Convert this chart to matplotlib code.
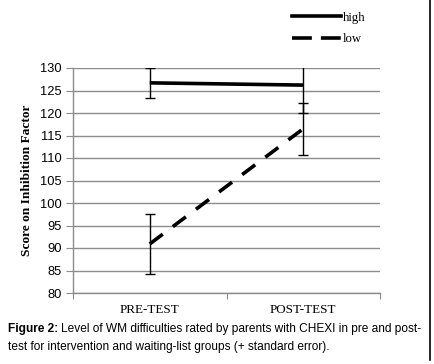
import matplotlib
matplotlib.use("Agg")
import matplotlib.pyplot as plt
from matplotlib.lines import Line2D

# data
phases = ["PRE-TEST", "POST-TEST"]
high_mean = [126.7, 126.2]
high_err = [3.4, 6.2]
low_mean = [90.9, 116.5]
low_err = [6.6, 5.8]

serif = "Liberation Serif"
sans = "Liberation Sans"
grid_c = "#8c8c8c"

fig = plt.figure(figsize=(4.34, 3.64), dpi=100)
ax = fig.add_axes([73 / 434, 1 - 293 / 364, 307 / 434, 225 / 364])

x = [0, 1]
ax.plot(x, high_mean, color="black", lw=2.6, solid_capstyle="butt", zorder=3)
ax.plot(x, low_mean, color="black", lw=2.6, dashes=(4.5, 3.5), zorder=3)
ax.errorbar(x, high_mean, yerr=high_err, fmt="none", ecolor="black",
            elinewidth=1, capsize=3.5, capthick=1, zorder=4)
ax.errorbar(x, low_mean, yerr=low_err, fmt="none", ecolor="black",
            elinewidth=1, capsize=3.5, capthick=1, zorder=4)

ax.set_xlim(-0.5, 1.5)
ax.set_ylim(80, 130)
ax.set_yticks(range(80, 131, 5))
ax.set_yticklabels([str(v) for v in range(80, 131, 5)], fontfamily=sans, fontsize=9.3)
ax.yaxis.grid(True, color=grid_c, lw=1)
ax.set_axisbelow(True)

ax.set_xticks([-0.5, 0.5, 1.5])
ax.set_xticklabels([])
ax.set_xticks(x, minor=True)
ax.set_xticklabels(phases, minor=True, fontfamily=serif, fontsize=9.4)
ax.tick_params(axis="x", which="major", length=4, color=grid_c, direction="out")
ax.tick_params(axis="x", which="minor", length=0, pad=8)
ax.tick_params(axis="y", length=5, color=grid_c, pad=3)

for s in ["top", "right"]:
    ax.spines[s].set_visible(False)
for s in ["left", "bottom"]:
    ax.spines[s].set_color(grid_c)
    ax.spines[s].set_linewidth(1)

ax.set_ylabel("Score on Inhibition Factor", fontfamily=serif, fontweight="bold",
              fontsize=9.6, labelpad=5)

# legend at the top
handles = [Line2D([], [], color="black", lw=2.6),
           Line2D([], [], color="black", lw=2.6, dashes=(5.5, 2.5))]
fig.legend(handles, ["high", "low"], loc="upper left",
           bbox_to_anchor=(280 / 434, 1 - 0 / 364), frameon=False,
           prop={"family": serif, "size": 9.2}, handlelength=3.9,
           handletextpad=0.1, labelspacing=0.75)

# right frame line
fig.add_artist(Line2D([430 / 434, 430 / 434], [1 - 360 / 364, 1.0],
                      transform=fig.transFigure, color="black", lw=1.2))

# caption
fig.canvas.draw()
r = fig.canvas.get_renderer()
t1 = fig.text(8 / 434, 1 - 329 / 364, "Figure 2:", fontfamily=sans,
              fontweight="bold", fontsize=8.6, va="center")
bb = t1.get_window_extent(renderer=r)
fig.text(bb.x1 / fig.bbox.width + 3 / 434, 1 - 329 / 364,
         "Level of WM difficulties rated by parents with CHEXI in pre and post-",
         fontfamily=sans, fontsize=8.6, va="center")
fig.text(8 / 434, 1 - 347 / 364,
         "test for intervention and waiting-list groups (+ standard error).",
         fontfamily=sans, fontsize=8.6, va="center")

fig.savefig("out.png", dpi=100)
